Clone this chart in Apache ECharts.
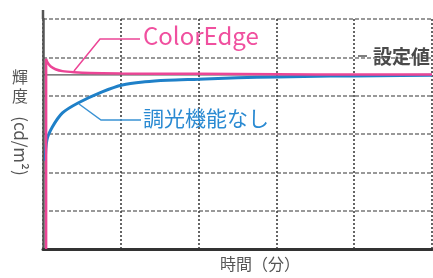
<!DOCTYPE html>
<html>
<head>
<meta charset="utf-8">
<script src="https://cdn.jsdelivr.net/npm/echarts@6/dist/echarts.min.js"></script>
<style>
html,body{margin:0;padding:0;background:#fff;}
#chart{width:433px;height:278px;}
</style>
</head>
<body>
<div id="chart"></div>
<script>
// ---- data ----
var xTicks = [0, 1, 2, 3, 4, 5];
var yTicks = [0, 1, 2, 3, 4, 5, 6];
var setValue = 4.54;
var colorEdgeTime = [0.04, 0.04, 0.06, 0.10, 0.16, 0.25, 0.4, 0.6, 1.0, 2.0, 3.0, 4.0, 5.0];
var colorEdgeVal  = [0.0, 4.96, 4.86, 4.76, 4.69, 4.64, 4.61, 4.59, 4.58, 4.57, 4.56, 4.55, 4.55];
var noDimTime = [0.03, 0.05, 0.12, 0.25, 0.45, 0.76, 1.02, 1.31, 1.6, 2.0, 2.5, 3.0, 3.7, 4.3, 5.0];
var noDimVal  = [2.30, 2.84, 3.18, 3.55, 3.81, 4.10, 4.28, 4.36, 4.40, 4.43, 4.47, 4.49, 4.51, 4.52, 4.53];
var seriesNames = ['ColorEdge', '調光機能なし', '設定値'];
var xTitle = '時間（分）';
var yTitleUpright = ['輝', '度'];
var yTitleRotated = '(cd/m²)';

function pairs(xs, ys){ return xs.map(function(x,i){ return [x, ys[i]]; }); }

var pink = '#ec4596';
var blue = '#1f80c8';
var font = '"Noto Sans CJK JP", "Noto Sans", sans-serif';

var chart = echarts.init(document.getElementById('chart'));
chart.setOption({
  animation: false,
  grid: {left: 43, right: 1, top: 19, bottom: 29},
  xAxis: {
    type: 'value', min: xTicks[0], max: xTicks[xTicks.length-1], interval: 1,
    axisLine: {show: true, lineStyle: {color: '#333', width: 3}},
    axisTick: {show: false}, axisLabel: {show: false},
    splitLine: {show: true, lineStyle: {color: '#333', width: 1.5, type: [2, 2]}}
  },
  yAxis: {
    type: 'value', min: yTicks[0], max: yTicks[yTicks.length-1], interval: 1,
    axisLine: {show: true, lineStyle: {color: '#555', width: 2.5}},
    axisTick: {show: false}, axisLabel: {show: false},
    splitLine: {show: true, lineStyle: {color: '#999', width: 2, type: [4, 2]}}
  },
  series: [
    {name: seriesNames[2], type: 'line', showSymbol: false, silent: true,
     data: [[xTicks[0], setValue], [xTicks[xTicks.length-1], setValue]],
     lineStyle: {color: '#555', width: 1.2}, z: 2},
    {name: seriesNames[1], type: 'line', showSymbol: false, smooth: 0.3,
     data: pairs(noDimTime, noDimVal),
     lineStyle: {color: blue, width: 3}, z: 3},
    {name: seriesNames[0], type: 'line', showSymbol: false, smooth: 0.3,
     data: pairs(colorEdgeTime, colorEdgeVal),
     lineStyle: {color: pink, width: 2.5}, z: 4}
  ],
  graphic: [
    {type: 'line', shape: {x1: 43, y1: 10, x2: 43, y2: 19}, style: {stroke: '#555', lineWidth: 2.5}, z: 10},
    {type: 'polyline', shape: {points: [[74, 71], [100, 39], [140, 39]]}, style: {stroke: pink, lineWidth: 1.5, fill: null}, z: 10},
    {type: 'text', left: 143, top: 24, style: {text: seriesNames[0], fill: '#f0509f', font: '24px ' + font}, z: 10},
    {type: 'polyline', shape: {points: [[79, 104], [101, 120], [141, 120]]}, style: {stroke: '#3a92d4', lineWidth: 1.5, fill: null}, z: 10},
    {type: 'text', left: 143, top: 108, style: {text: seriesNames[1], fill: '#2a8ad2', font: '21px ' + font}, z: 10},
    {type: 'line', shape: {x1: 358, y1: 56, x2: 367, y2: 56}, style: {stroke: '#555', lineWidth: 1.5}, z: 10},
    {type: 'text', x: 373, y: 57, style: {text: seriesNames[2], fill: '#4a4a4a', font: 'bold 19px ' + font, verticalAlign: 'middle'}, z: 10},
    {type: 'text', left: 220, top: 256, style: {text: xTitle, fill: '#555', font: '16px ' + font}, z: 10},
    {type: 'text', x: 20, y: 77, style: {text: yTitleUpright[0], fill: '#555', font: '16px ' + font, align: 'center', verticalAlign: 'middle'}, z: 10},
    {type: 'text', x: 20, y: 96, style: {text: yTitleUpright[1], fill: '#555', font: '16px ' + font, align: 'center', verticalAlign: 'middle'}, z: 10},
    {type: 'text', x: 20, y: 146, rotation: -Math.PI/2, style: {text: yTitleRotated, fill: '#555', font: '17px ' + font, align: 'center', verticalAlign: 'middle'}, z: 10}
  ]
});
</script>
</body>
</html>
